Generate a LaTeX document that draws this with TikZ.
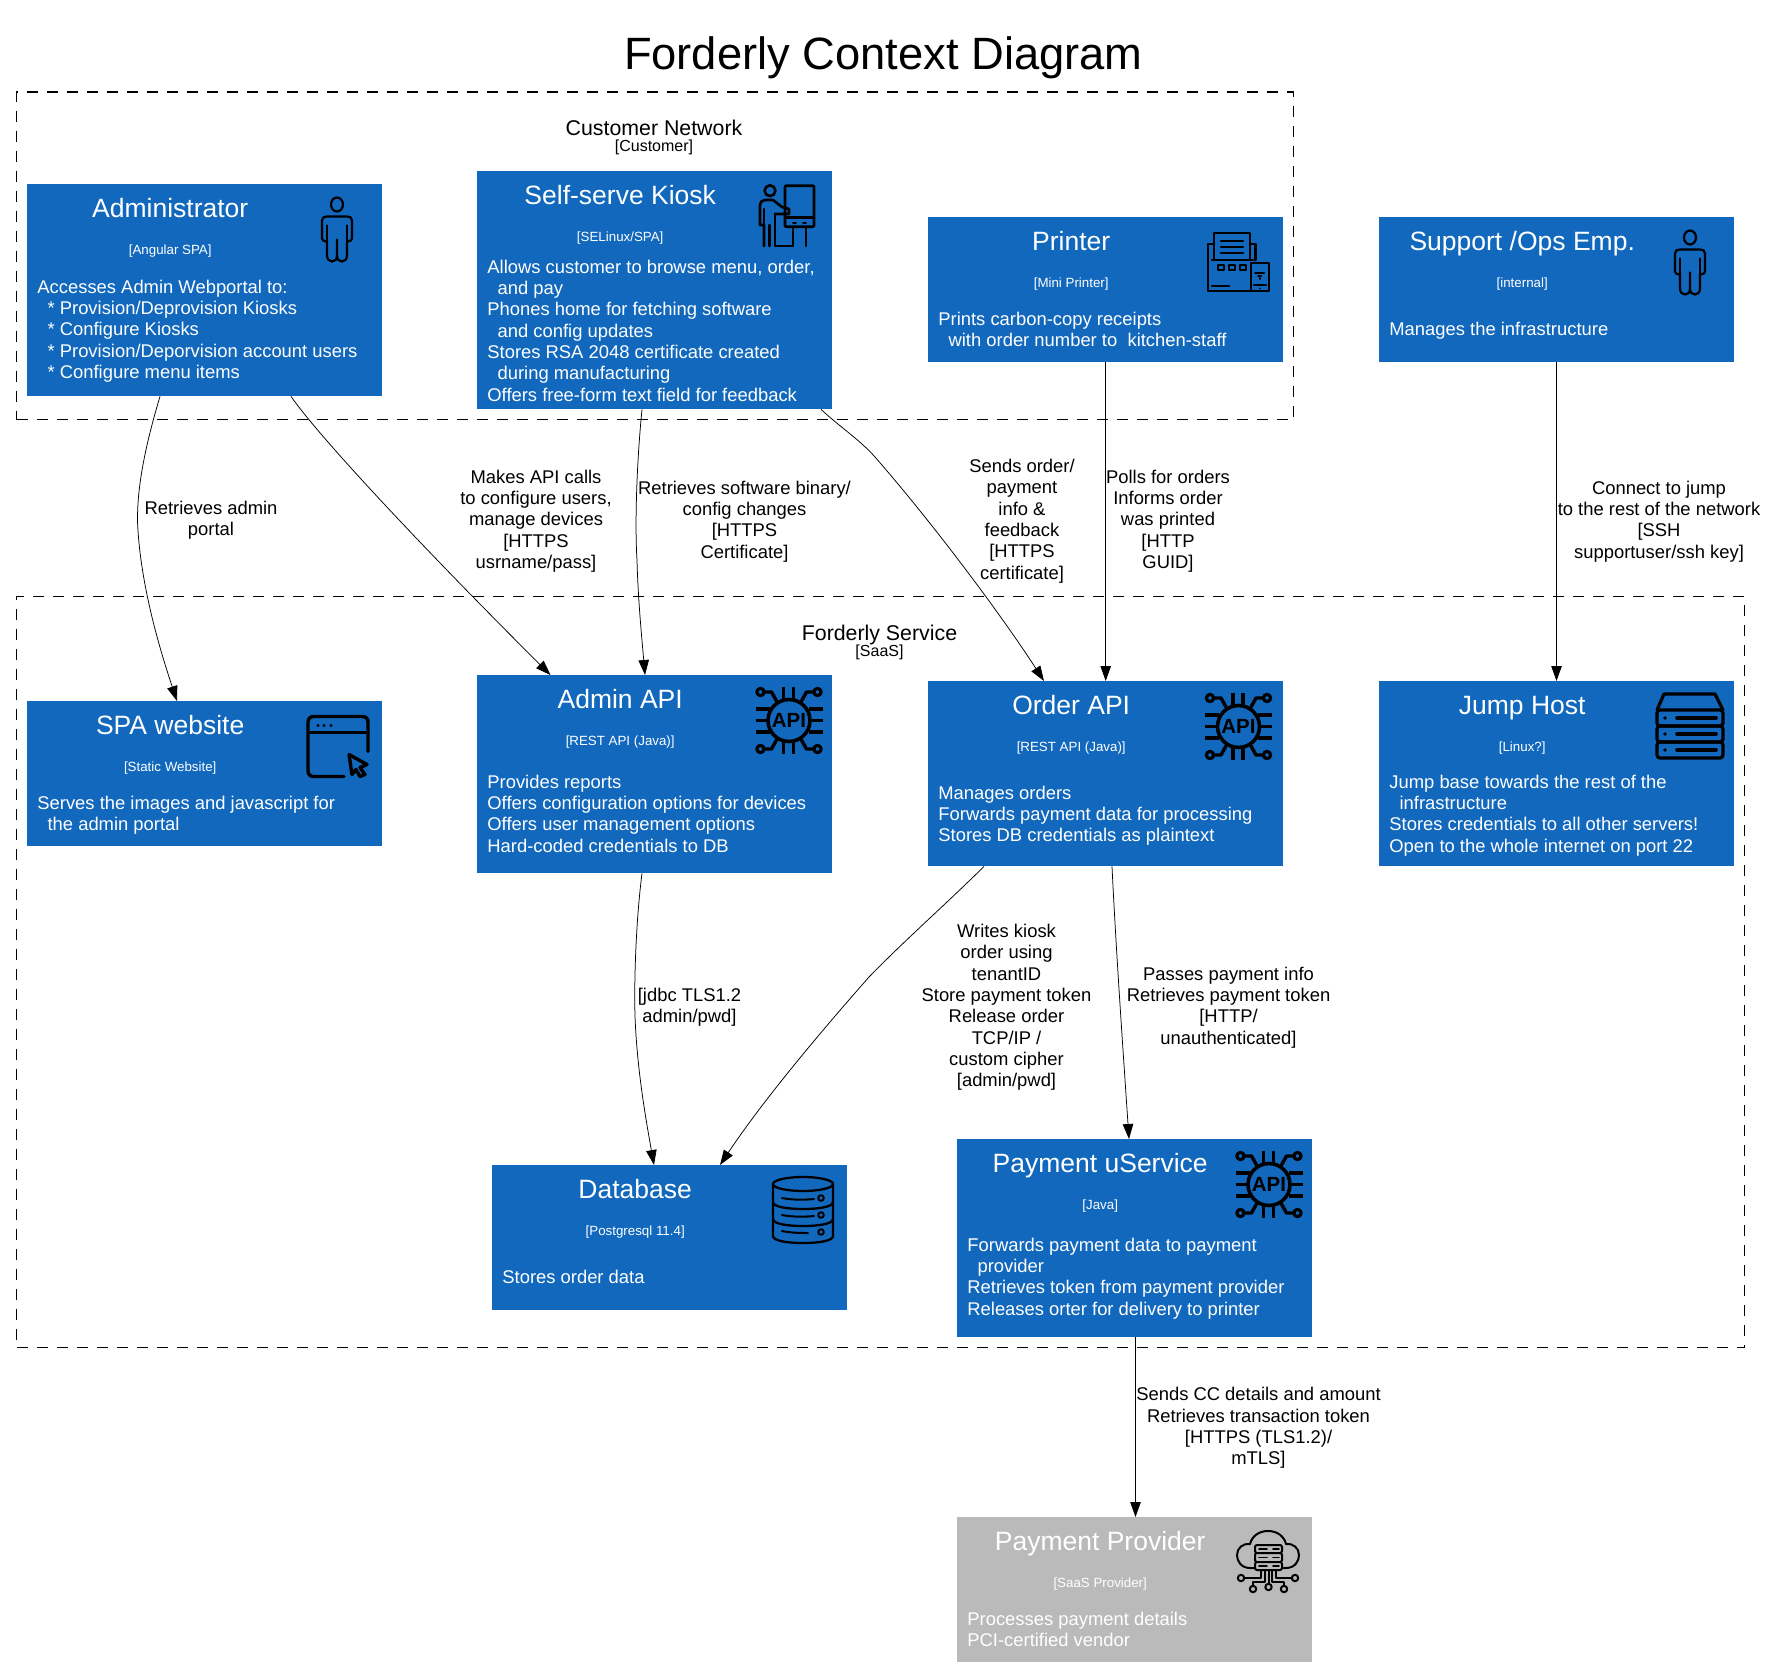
\documentclass[tikz,border=0pt]{standalone}
\usepackage{fontspec}
\setmainfont{Liberation Sans}
\usetikzlibrary{arrows.meta}
\definecolor{cblue}{HTML}{1168BD}
\definecolor{cgrey}{HTML}{BABABA}
\newcommand\fTitle{\fontsize{45.3}{50}\selectfont}
\newcommand\fHead{\fontsize{26.5}{30}\selectfont}
\newcommand\fBody{\fontsize{18.4}{21.35}\selectfont}
\newcommand\fTech{\fontsize{13.33}{15}\selectfont}
\newcommand\fGroup{\fontsize{21.33}{24}\selectfont}
\newcommand\fGroupSub{\fontsize{16}{18}\selectfont}
\newcommand\ind{\hspace*{10.2pt}}
\tikzset{
  boxblue/.style={rectangle,fill=cblue,draw=none,inner sep=0,anchor=north west,minimum width=355pt},
  boxgrey/.style={rectangle,fill=cgrey,draw=none,inner sep=0,anchor=north west,minimum width=355pt},
  grouprect/.style={rectangle,draw=black,line width=1.2pt,dash pattern=on 11pt off 9pt,inner sep=0,anchor=north west},
  boxhead/.style={anchor=base,inner sep=0,text=white,font=\fHead},
  boxtech/.style={anchor=base,inner sep=0,text=white,font=\fTech},
  boxdesc/.style={anchor=north west,inner sep=0,text=white,font=\fBody,align=left},
  edgetext/.style={anchor=center,inner sep=0,text=black,font=\fBody,align=center},
  link/.style={draw=black,line width=0.75pt,-{Triangle[length=15pt,width=10.5pt]}},
  ico/.style={draw=black,line width=2.6pt,line cap=round,line join=round},
  icothin/.style={draw=black,line width=2pt,line cap=round,line join=round},
  personicon/.pic={
    \draw[ico,line width=2.2pt] (15,7) ellipse (6 and 7);
    \draw[ico,line width=2.2pt] (5,19) -- (25,19) .. controls (28,19) and (30,20) .. (30,23) -- (30,41)
      .. controls (30,43) and (28,44) .. (25,44) -- (25,57) .. controls (25,62) and (23,64) .. (20,64)
      .. controls (17,64) and (15,62) .. (15,58) -- (15,42) -- (15,58)
      .. controls (15,62) and (13,64) .. (10,64) .. controls (7,64) and (5,62) .. (5,57) -- (5,44)
      .. controls (2,44) and (0,43) .. (0,41) -- (0,23) .. controls (0,20) and (2,19) .. (5,19);
    \draw[ico,line width=2.2pt] (5,28) -- (5,44) (25,28) -- (25,44);
  },
  kioskicon/.pic={
    \draw[ico,rounded corners=1pt] (25,0.7) rectangle (54,41.7);
    \draw[ico] (25,32.7) -- (54,32.7);
    \draw[ico,line width=1.6pt] (33,37.7) -- (36,37.7) (43,37.7) -- (46,37.7);
    \draw[ico] (33,42) -- (33,61) -- (15,61) -- (15,29);
    \draw[ico] (46,42) -- (46,61);
    \draw[ico] (10,5.7) circle (5.4);
    \draw[ico] (4,61) -- (4,40) -- (0,40) -- (0,20) .. controls (0,17) and (2,15) .. (5,15) -- (13,15)
      -- (22,22) -- (29,24) -- (29,29) -- (15,29);
    \draw[ico] (9.5,40) -- (9.5,61);
    \draw[ico] (4,24) -- (4,40);
  },
  printericon/.pic={
    \draw[ico] (6,28) -- (6,1) -- (42,1) -- (42,28);
    \draw[ico] (13,9) -- (35,9) (13,15) -- (35,15) (13,21) -- (35,21);
    \draw[ico] (4,28) -- (45,28);
    \draw[ico] (6,12) -- (0,12) -- (0,59) -- (43,59);
    \draw[ico] (42,12) -- (47.5,12) -- (47.5,28);
    \draw[ico] (43,31) rectangle (61,59);
    \draw[ico,line width=2pt] (10,33) rectangle (16,37.5) (21,33) rectangle (27,37.5) (32,33) rectangle (38,37.5);
    \draw[ico] (4,54) -- (21,54);
    \draw[ico] (46,53) -- (58,53);
    \draw[ico,line width=2pt] (47,41) -- (56,41) (50,44) -- (53,44) (51.5,46) -- (51.5,47);
    \fill (52,56.5) circle (1);
  },
  apiicon/.pic={
    \draw[ico,line width=3.6pt] (33.5,33.5) circle (21);
    \node[inner sep=0,font=\fontsize{20.5}{21}\selectfont\bfseries] (apilabel) at (33.5,33.5) {API};
    \draw[ico,line width=3.6pt,line cap=butt]
      (28,0) -- (28,12) (38,0) -- (38,12) (28,55) -- (28,67) (38,55) -- (38,67)
      (0,22) -- (14,22) (0,33.5) -- (11,33.5) (0,45) -- (14,45)
      (67,22) -- (53,22) (67,33.5) -- (56,33.5) (67,45) -- (53,45);
    \draw[ico,line width=3.2pt] (5,5) circle (3.6) (62,5) circle (3.6) (5,62) circle (3.6) (62,62) circle (3.6);
    \draw[ico,line width=3.4pt] (9,5) -- (16,5) -- (21,14) (58,5) -- (51,5) -- (46,14)
      (9,62) -- (16,62) -- (21,53) (58,62) -- (51,62) -- (46,53);
  },
  browsericon/.pic={
    \draw[ico,line width=3.4pt] (60,35) -- (60,6) .. controls (60,2) and (58,0) .. (54,0) -- (6,0)
      .. controls (2,0) and (0,2) .. (0,6) -- (0,54) .. controls (0,58) and (2,60) .. (6,60) -- (36,60);
    \draw[ico,line width=3.4pt] (0,16) -- (60,16);
    \fill (10,9) circle (1.6) (16,9) circle (1.6) (23,9) circle (1.6);
    \draw[ico,line width=3.4pt] (41,38) -- (59,48) -- (52,51) -- (57,58) -- (52,60) -- (48,53) -- (44,58) -- cycle;
  },
  servericon/.pic={
    \draw[ico,line width=3.2pt] (0,17) -- (7,1) -- (58,1) -- (66,17);
    \foreach \yy in {17,33,49} {
      \draw[ico,line width=3.2pt,rounded corners=3pt] (0,\yy) rectangle (66,\yy+16);
      \draw[ico,line width=3.6pt] (20,\yy+8) -- (59,\yy+8);
      \fill (8,\yy+8) circle (1.8);
    }
  },
  dbicon/.pic={
    \draw[ico,line width=2.3pt] (31,7) ellipse (30 and 7);
    \draw[ico,line width=2.3pt] (1,7) -- (1,59) .. controls (1,64) and (16,66) .. (31,66) .. controls (46,66) and (61,64) .. (61,59) -- (61,7);
    \draw[ico,line width=2.3pt] (1,25) .. controls (1,30) and (16,32) .. (31,32) .. controls (46,32) and (61,30) .. (61,25);
    \draw[ico,line width=2.3pt] (1,42) .. controls (1,47) and (16,49) .. (31,49) .. controls (46,49) and (61,47) .. (61,42);
    \draw[ico,line width=2pt] (10,21) .. controls (20,23) and (32,23) .. (42,22) (10,38) .. controls (20,40) and (32,40) .. (42,39) (10,54) .. controls (20,56) and (28,56) .. (36,56);
    \draw[ico,line width=2pt] (49,21) circle (2.8) (49,38) circle (2.8) (49,55) circle (2.8);
  },
  cloudicon/.pic={
    \draw[icothin] (17,37) -- (13,37) .. controls (4,37) and (0,30) .. (0,24) .. controls (0,17) and (6,12) .. (13,13)
      .. controls (15,5) and (22,0) .. (31,0) .. controls (40,0) and (47,5) .. (49,13)
      .. controls (56,12) and (62,17) .. (62,24) .. controls (62,30) and (58,37) .. (49,37) -- (46,37);
    \draw[icothin,rounded corners=2pt] (18,14) rectangle (45,22) (18,22) rectangle (45,31) (18,31) rectangle (45,39);
    \draw[icothin,line width=1.6pt] (22,18) -- (30,18) (22,26.5) -- (30,26.5) (22,35) -- (30,35)
      (36,18) -- (42,18) (36,26.5) -- (42,26.5) (36,35) -- (42,35);
    \draw[icothin] (24,39) -- (24,47) -- (7.5,47) (28,39) -- (28,51) -- (16,51) -- (16,55)
      (31.5,39) -- (31.5,53) (35,39) -- (35,51) -- (47,51) -- (47,55) (39,39) -- (39,47) -- (54.5,47);
    \draw[icothin] (4,47) circle (3.2) (16,58) circle (3.2) (31.5,56) circle (3.2) (47,58) circle (3.2) (58,47) circle (3.2);
  }
}
% #1 style, #2 name, #3 x, #4 y, #5 height, #6 head, #7 tech, #8 baseline offset of text, #9 text
\newcommand\cfourbox[9][boxblue]{%
  \node[#1,minimum height=#5pt] (#2) at (#3,#4) {};
  \node[boxhead] (#2head) at ([xshift=143.2pt,yshift=-33.5pt]#2.north west) {#6};
  \node[boxtech] (#2tech) at ([xshift=143.2pt,yshift=-70pt]#2.north west) {#7};
  \node[boxdesc] (#2desc) at ([xshift=10.2pt,yshift={-(#8pt-14.95pt)}]#2.north west) {\strut #9};
}
\begin{document}
\begin{tikzpicture}[x=1pt,y=-1pt]
\useasboundingbox (0,0) rectangle (1767,1667);
\node[anchor=base,inner sep=0,font=\fTitle] (title) at (883.3,70) {Forderly Context Diagram};

\node[grouprect,minimum width=1277pt,minimum height=327.5pt] (customer) at (16,91.5) {};
\node[anchor=base,inner sep=0,font=\fGroup] (customerlabel) at (654,135.5) {Customer Network};
\node[anchor=base,inner sep=0,font=\fGroupSub] (customersub) at (654,152) {[Customer]};
\node[grouprect,minimum width=1728pt,minimum height=751.5pt] (service) at (16,595.5) {};
\node[anchor=base,inner sep=0,font=\fGroup] (servicelabel) at (879.5,640) {Forderly Service};
\node[anchor=base,inner sep=0,font=\fGroupSub] (servicesub) at (879.5,656) {[SaaS]};

\cfourbox{admin}{27}{184}{212}{Administrator}{[Angular SPA]}{109}{Accesses Admin Webportal to:\\\ind * Provision/Deprovision Kiosks\\\ind * Configure Kiosks\\\ind * Provision/Deporvision account users\\\ind * Configure menu items}
\cfourbox{kiosk}{477}{171}{238}{Self-serve Kiosk}{[SELinux/SPA]}{102}{Allows customer to browse menu, order,\\\ind and pay\\Phones home for fetching software\\\ind and config updates\\Stores RSA 2048 certificate created\\\ind during manufacturing\\Offers free-form text field for feedback}
\cfourbox{printer}{928}{217}{145}{Printer}{[Mini Printer]}{108}{Prints carbon-copy receipts\\\ind with order number to\ \ kitchen-staff}
\cfourbox{support}{1379}{217}{145}{Support /Ops Emp.}{[internal]}{118}{Manages the infrastructure}
\cfourbox{spa}{27}{701}{145}{SPA website}{[Static Website]}{108}{Serves the images and javascript for\\\ind the admin portal}
\cfourbox{adminapi}{477}{675}{198}{Admin API}{[REST API (Java)]}{113}{Provides reports\\Offers configuration options for devices\\Offers user management options\\Hard-coded credentials to DB}
\cfourbox{orderapi}{928}{681}{185}{Order API}{[REST API (Java)]}{118}{Manages orders\\Forwards payment data for processing\\Stores DB credentials as plaintext}
\cfourbox{jump}{1379}{681}{185}{Jump Host}{[Linux?]}{107}{Jump base towards the rest of the\\\ind infrastructure\\Stores credentials to all other servers!\\Open to the whole internet on port 22}
\cfourbox{database}{492}{1165}{145}{Database}{[Postgresql 11.4]}{118}{Stores order data}
\cfourbox{payment}{957}{1139}{198}{Payment uService}{[Java]}{112}{Forwards payment data to payment\\\ind provider\\Retrieves token from payment provider\\Releases orter for delivery to printer}
\cfourbox[boxgrey]{provider}{957}{1517}{145}{Payment Provider}{[SaaS Provider]}{108}{Processes payment details\\PCI-certified vendor}

\pic (iconadmin) at (322,197.5) {personicon};
\pic (iconsupport) at (1675,230.5) {personicon};
\pic (iconkiosk) at (760,185) {kioskicon};
\pic (iconprinter) at (1208,232) {printericon};
\pic (iconadminapi) at (755.5,687) {apiicon};
\pic (iconorderapi) at (1205,693) {apiicon};
\pic (iconpayment) at (1235.5,1151) {apiicon};
\pic (iconspa) at (308,716.5) {browsericon};
\pic (iconjump) at (1657,693) {servericon};
\pic (icondb) at (772,1177) {dbicon};
\pic (iconprovider) at (1237,1531) {cloudicon};

\draw[link] ([xshift=133pt]admin.south west) .. controls (147,440) and (135,490) .. (138,531) .. controls (142,590) and (160,650) .. ([xshift=150pt]spa.north west);
\draw[link] ([xshift=264pt]admin.south west) .. controls (325,445) and (450,575) .. ([xshift=73.5pt]adminapi.north west);
\draw[link] ([xshift=165pt]kiosk.south west) .. controls (636,470) and (635,530) .. (637,560) .. controls (638,600) and (642,640) .. ([xshift=168pt]adminapi.north west);
\draw[link] ([xshift=344pt]kiosk.south west) .. controls (840,427) and (860,440) .. (875,457) .. controls (930,520) and (998,610) .. ([xshift=116pt]orderapi.north west);
\draw[link] ([xshift=177.7pt]printer.south west) -- ([xshift=177.7pt]orderapi.north west);
\draw[link] ([xshift=177.5pt]support.south west) -- ([xshift=177.5pt]jump.north west);
\draw[link] ([xshift=165pt]adminapi.south west) .. controls (636,920) and (634,980) .. (635,1016) .. controls (637,1070) and (646,1120) .. ([xshift=162pt]database.north west);
\draw[link] ([xshift=56pt]orderapi.south west) .. controls (945,905) and (905,940) .. (869,977) .. controls (840,1010) and (770,1090) .. ([xshift=228pt]database.north west);
\draw[link] ([xshift=184pt]orderapi.south west) .. controls (1116,950) and (1123,1050) .. ([xshift=172pt]payment.north west);
\draw[link] ([xshift=178.5pt]payment.south west) -- ([xshift=178.5pt]provider.north west);

\node[edgetext] (lbladminspa) at (211,520.5) {Retrieves admin\\portal};
\node[edgetext] (lbladminapi) at (536,521) {Makes API calls\\to configure users,\\manage devices\\{[}HTTPS\\usrname/pass]};
\node[edgetext] (lblkioskapi) at (744.5,521.5) {Retrieves software binary/\\config changes\\{[}HTTPS\\Certificate]};
\node[edgetext] (lblkioskorder) at (1022,521) {Sends order/\\payment\\info \&\\feedback\\{[}HTTPS\\certificate]};
\node[edgetext] (lblprinter) at (1168,521) {Polls for orders\\Informs order\\was printed\\{[}HTTP\\GUID]};
\node[edgetext] (lblsupport) at (1659,521.5) {Connect to jump\\to the rest of the network\\{[}SSH\\supportuser/ssh key]};
\node[edgetext] (lbldbadmin) at (689.5,1007.5) {{[}jdbc TLS1.2\\admin/pwd]};
\node[edgetext] (lbldborder) at (1006.5,1007.5) {Writes kiosk\\order using\\tenantID\\Store payment token\\Release order\\TCP/IP /\\custom cipher\\{[}admin/pwd]};
\node[edgetext] (lblpayment) at (1228.5,1007.5) {Passes payment info\\Retrieves payment token\\{[}HTTP/\\unauthenticated]};
\node[edgetext] (lblprovider) at (1258.5,1428) {Sends CC details and amount\\Retrieves transaction token\\{[}HTTPS (TLS1.2)/\\mTLS]};
\end{tikzpicture}
\end{document}
